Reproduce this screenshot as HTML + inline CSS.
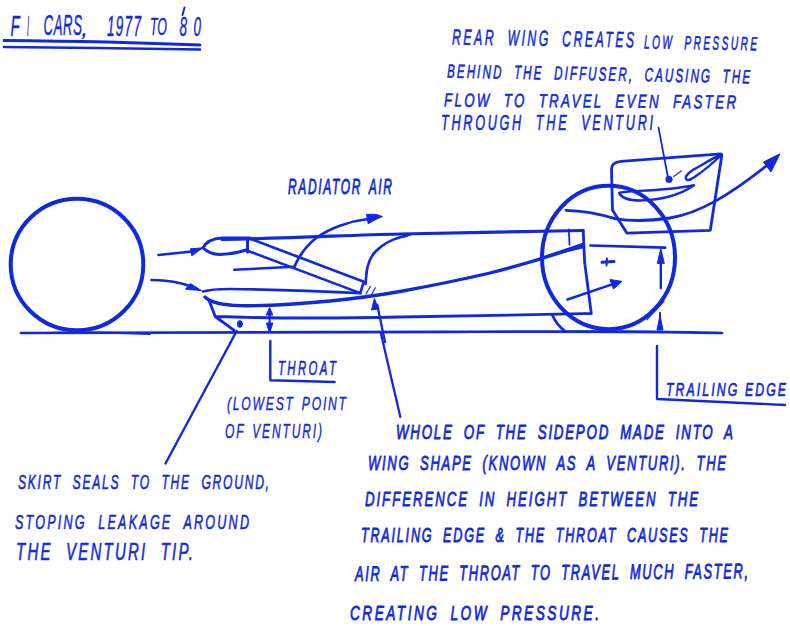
<!DOCTYPE html>
<html><head><meta charset="utf-8">
<style>
html,body{margin:0;padding:0;background:#fff;width:790px;height:626px;overflow:hidden}
svg{display:block}
.s{fill:none;stroke:#1029e0;stroke-linecap:round;stroke-linejoin:round}
</style></head><body>
<svg width="790" height="626" viewBox="0 0 790 626">
<g class="s" stroke-width="3">
<!-- title underline -->
<path d="M184.5,7.5 L182.5,15" stroke-width="2"/><!-- apostrophe -->
<path d="M4,40.5 C60,41 150,43 200,45" stroke-width="2.8"/>
<path d="M4,47 C60,47.5 150,48.5 200,49.5" stroke-width="2.6"/>
<!-- front wheel -->
<ellipse cx="77" cy="264.5" rx="66.3" ry="65.8" stroke-width="4"/>
<!-- ground -->
<path d="M21,333 C150,332.5 300,331.5 450,331.8 C550,331.5 650,331 722,333" stroke-width="2.7"/>
<path d="M45,333 C80,332 120,332.5 150,334" stroke-width="2.2"/><!-- groundthick -->
<path d="M560,331.5 C600,330.5 640,331 700,332.5" stroke-width="1.6"/>
<path d="M647,319.5 C652,314 658,308 664,301" stroke-width="1.3"/>
<!-- arrows into sidepod -->
<path d="M158.4,255 C172,253.5 182,252.5 192,251.5" stroke-width="2.5"/>
<path d="M151.4,280 C165,280 180,282 192,287" stroke-width="2.5"/>
<!-- inlet oval -->
<path d="M203,247.8 C206,242 212,238.5 222,238 L250,238 M203,247.8 C207,252 212,254.5 220,254.5 C232,254 240,252 246,250 M247.5,240.5 L247.5,252" stroke-width="3"/>
<path d="M222,239.5 C300,238 350,235 400,234 C470,233 530,232 583,230.5" stroke-width="3.2"/>
<!-- radiator duct -->
<path d="M249.6,238.5 L363.8,281.7 L360.3,293.1 M248.2,251 L360.3,293.1" stroke-width="2.6"/>
<path d="M234.3,269.7 L294.4,266.8" stroke-width="2.5"/>
<path d="M294.4,266.8 C298,258 305,247 316.4,237.8 C330,228 350,221 368,219" stroke-width="2.7"/>
<!-- engine cover -->
<path d="M365.6,284 C366,278 366.5,272 367.3,268 C369,260 372,255 376,251 C381,246 390,240 401,237 C405,236 408,235 410,234.5" stroke-width="2.7"/>
<!-- lower sidepod -->
<path d="M203,291.5 C210,289.5 218,289 230,289 C280,289.5 320,291 360.3,293.1" stroke-width="2.7"/>
<path d="M205,297 C210,302 220,305 240,305.7 C270,306 300,304 330,301 C360,298 380,295 400,291.5 C430,286 460,280 490,273 C530,263 560,253 583,245" stroke-width="3.3"/>
<path d="M208.9,300 L215.2,316.5 L234.2,330.4 M215.2,316.5 C260,318 330,318.5 400,317 C480,315.5 540,314.5 584,313.7" stroke-width="2.8"/>
<ellipse cx="239.9" cy="324" rx="2.6" ry="3.4" fill="#1029e0" stroke-width="0.8"/>
<path d="M269.6,310 L269.6,330" stroke-width="2.2"/>
<path d="M385,342 L377.3,305" stroke-width="2.3"/>
<path d="M370.4,286.3 L366,294 M375.3,287.8 L371.5,294.7" stroke-width="1.2"/><!-- hatch -->
<!-- pointer lines -->
<path d="M236.7,331 L165.5,463.5" stroke-width="2.4"/>
<path d="M380.8,333 L400.3,416.8" stroke-width="2.3"/>
<path d="M270.3,341 L270.3,380.2 L334.6,382" stroke-width="2.4"/>
<!-- rear wheel -->
<ellipse cx="608.5" cy="257.5" rx="66.5" ry="71.7" stroke-width="4"/>
<path d="M552,314.6 C555,321 559,327 565,331" stroke-width="2.6"/>
<path d="M540,258 L583,243.5 L583.5,247.5 Z" fill="#1029e0" stroke-width="1.5"/>
<!-- diffuser box -->
<path d="M583.2,230.5 L584.6,262 L591.3,313.7 M584.6,313.7 L591.3,313.7" stroke-width="2.8"/>
<path d="M568.8,229.5 L569.5,244.8" stroke-width="1.8"/>
<path d="M590.4,245.5 L665.2,247.6" stroke-width="2.6"/>
<path d="M660.8,262 L660.8,288" stroke-width="2.4"/>
<path d="M660,312.7 L660,318" stroke-width="2"/>
<path d="M602,262.3 L614,261.5" stroke-width="3"/>
<path d="M607,258.5 L606.5,265.5" stroke-width="2"/>
<path d="M567.5,299.5 L615,283.4" stroke-width="2.5"/>
<!-- rear wing -->
<path d="M611.5,169 C611.5,164 615,161.8 621,161.3 L720.8,153.8 L721.8,155.5 L710.3,230.3 L626.8,233.1 L612.5,210 Z" stroke-width="2.8"/>
<path d="M658.5,127.7 L668,177.5" stroke-width="1.8"/>
<circle cx="669" cy="179.4" r="3.3" fill="#1029e0" stroke-width="0.5"/>
<path d="M673.8,176.6 L681.5,170.8" stroke-width="1.2"/>
<path d="M686.3,179.4 C684,176 690,171 700,166 C710,160 717,156 721.8,154.5 C714,162 705,170 696,176 C692,179 688,181 686.3,179.4 Z" stroke-width="2.4"/>
<path d="M619.2,192.9 C625,190 660,192 694,185.2 C680,195 660,200 640,200.5 C628,200.5 621,197 619.2,192.9 Z" stroke-width="2.4"/>
<path d="M566,210.3 C580,210.5 600,214 616,218.9 C630,221 650,221 670,218 C700,213 730,195 770,163" stroke-width="2.8"/>
<!-- trailing edge L -->
<path d="M657,346 L657,399 L785,405" stroke-width="2.4"/>
</g>
<g fill="#1029e0" stroke="#1029e0" stroke-width="1" stroke-linejoin="round">
<!-- arrowheads -->
<path d="M202.9,247.8 L190.4,248.8 L191.8,255.8 Z"/>
<path d="M201.5,290.6 L190.4,283.6 L185.5,289.2 Z"/>
<path d="M382.3,216.7 C378,214 372,214 366.5,214.5 L368.2,223.7 C373,221 378,218 382.3,216.7 Z"/>
<path d="M269.6,307.6 L266.3,315 L272.9,315 Z"/>
<path d="M269.6,333 L266.3,323 L272.9,323 Z"/>
<path d="M374.4,298.4 L371.5,310 L378.5,309 Z"/>
<path d="M660.8,248.5 L657.3,263.4 L664.3,263.4 Z"/>
<path d="M660,315 L657,330 L663,330 Z"/>
<path d="M622,281.4 L610,279.5 L613.5,289 Z"/>
<path d="M780,153.8 L763.5,162 L771,172 Z"/>
</g>

<g fill="#1029e0" font-family="'Liberation Sans', sans-serif" font-style="italic" stroke-linejoin="round">
<text transform="translate(10.40 35.5) scale(0.5027 1)" font-size="30.2" stroke="#1029e0" stroke-width="0.45">F</text>
<text transform="translate(27.00 36) scale(0.2411 1)" font-size="30.2" stroke="#1029e0" stroke-width="0.45">I</text>
<text transform="translate(43.60 35) scale(0.4500 1)" font-size="29.2" textLength="85.33" lengthAdjust="spacing" stroke="#1029e0" stroke-width="0.45">CARS</text>
<text transform="translate(81.00 36) scale(1.2158 1)" font-size="22" stroke="#1029e0" stroke-width="0.2">,</text>
<text transform="translate(107.00 36) scale(0.4500 1)" font-size="30.2" textLength="75.56" lengthAdjust="spacing" stroke="#1029e0" stroke-width="0.45">1977</text>
<text transform="translate(150.00 35) scale(0.5000 1)" font-size="24.8" textLength="34.00" lengthAdjust="spacing" stroke="#1029e0" stroke-width="0.45">TO</text>
<text transform="translate(179.40 36) scale(0.5000 1)" font-size="27.0" textLength="43.20" lengthAdjust="spacing" stroke="#1029e0" stroke-width="0.45">80</text>
<text transform="translate(452.00 44.5) rotate(0.9) scale(0.5540 1)" font-size="22" textLength="328.52" lengthAdjust="spacing" word-spacing="9.9" stroke="#1029e0" stroke-width="0.6">REAR WING CREATES</text>
<text transform="translate(644.00 48.5) rotate(0.9) scale(0.5330 1)" font-size="19" textLength="212.01" lengthAdjust="spacing" word-spacing="8.6" stroke="#1029e0" stroke-width="0.6">LOW PRESSURE</text>
<text transform="translate(447.00 77.5) rotate(1.1) scale(0.6120 1)" font-size="19" textLength="495.10" lengthAdjust="spacing" word-spacing="8.6" stroke="#1029e0" stroke-width="0.6">BEHIND THE DIFFUSER, CAUSING THE</text>
<text transform="translate(444.00 106.5) rotate(0.4) scale(0.6980 1)" font-size="19" textLength="418.34" lengthAdjust="spacing" word-spacing="8.6" stroke="#1029e0" stroke-width="0.6">FLOW TO TRAVEL EVEN FASTER</text>
<text transform="translate(441.00 130) scale(0.5760 1)" font-size="22" textLength="368.06" lengthAdjust="spacing" word-spacing="9.9" stroke="#1029e0" stroke-width="0.6">THROUGH THE VENTURI</text>
<text transform="translate(288.00 194) scale(0.5440 1)" font-size="22" textLength="191.18" lengthAdjust="spacing" word-spacing="4" stroke="#1029e0" stroke-width="0.9">RADIATOR AIR</text>
<text transform="translate(278.00 375) scale(0.5440 1)" font-size="21" textLength="106.62" lengthAdjust="spacing" stroke="#1029e0" stroke-width="0.6">THROAT</text>
<text transform="translate(227.00 410) scale(0.6400 1)" font-size="19" textLength="185.94" lengthAdjust="spacing" word-spacing="3" stroke="#1029e0" stroke-width="0.4">(LOWEST POINT</text>
<text transform="translate(225.00 438) scale(0.6000 1)" font-size="20" textLength="161.67" lengthAdjust="spacing" word-spacing="3" stroke="#1029e0" stroke-width="0.4">OF VENTURI)</text>
<text transform="translate(666.00 396) scale(0.6480 1)" font-size="19" textLength="185.19" lengthAdjust="spacing" stroke="#1029e0" stroke-width="0.7">TRAILING EDGE</text>
<text transform="translate(18.00 489) scale(0.5780 1)" font-size="21" textLength="434.26" lengthAdjust="spacing" word-spacing="9.5" stroke="#1029e0" stroke-width="0.6">SKIRT SEALS TO THE GROUND,</text>
<text transform="translate(15.00 529) scale(0.6000 1)" font-size="21" textLength="390.00" lengthAdjust="spacing" word-spacing="9.5" stroke="#1029e0" stroke-width="0.6">STOPING LEAKAGE AROUND</text>
<text transform="translate(16.00 560) scale(0.6520 1)" font-size="23" textLength="271.47" lengthAdjust="spacing" word-spacing="10.3" stroke="#1029e0" stroke-width="0.6">THE VENTURI TIP.</text>
<text transform="translate(396.00 439) scale(0.6690 1)" font-size="20" textLength="503.74" lengthAdjust="spacing" word-spacing="7.0" stroke="#1029e0" stroke-width="0.85">WHOLE OF THE SIDEPOD MADE INTO A</text>
<text transform="translate(368.00 470) scale(0.6230 1)" font-size="21" textLength="574.64" lengthAdjust="spacing" word-spacing="7.3" stroke="#1029e0" stroke-width="0.85">WING SHAPE (KNOWN AS A VENTURI). THE</text>
<text transform="translate(365.00 506) scale(0.6310 1)" font-size="21" textLength="527.73" lengthAdjust="spacing" word-spacing="7.3" stroke="#1029e0" stroke-width="0.85">DIFFERENCE IN HEIGHT BETWEEN THE</text>
<text transform="translate(361.00 542) scale(0.6310 1)" font-size="20" textLength="581.62" lengthAdjust="spacing" word-spacing="7.0" stroke="#1029e0" stroke-width="0.85">TRAILING EDGE &amp; THE THROAT CAUSES THE</text>
<text transform="translate(355.00 581) rotate(-0.4) scale(0.6160 1)" font-size="21" textLength="637.99" lengthAdjust="spacing" word-spacing="7.3" stroke="#1029e0" stroke-width="0.85">AIR AT THE THROAT TO TRAVEL MUCH FASTER,</text>
<text transform="translate(350.00 620) scale(0.6840 1)" font-size="20" textLength="364.04" lengthAdjust="spacing" word-spacing="7.0" stroke="#1029e0" stroke-width="0.85">CREATING LOW PRESSURE.</text>
</g>
</svg>
</body></html>
